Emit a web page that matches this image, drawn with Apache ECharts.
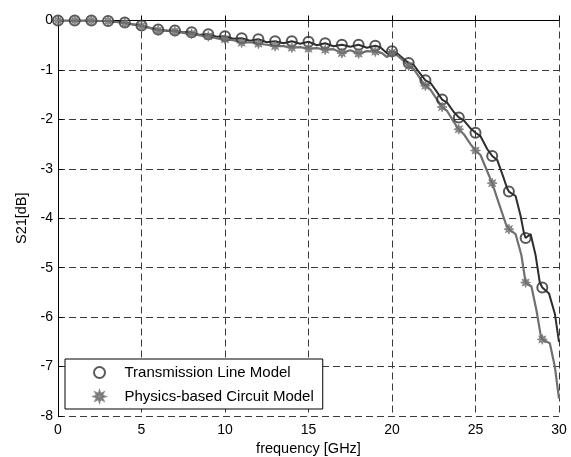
<!DOCTYPE html>
<html>
<head>
<meta charset="utf-8">
<script src="https://cdn.jsdelivr.net/npm/echarts@6/dist/echarts.min.js"></script>
<style>
  html, body { margin: 0; padding: 0; background: #fff; }
  #chart { width: 571px; height: 457px; }
</style>
</head>
<body>
<div id="chart"></div>
<script>
// Marker frequencies [GHz] and S21 [dB] at each marker
const markerFreq = [0, 1, 2, 3, 4, 5, 6, 7, 8, 9, 10, 11, 12, 13, 14, 15, 16, 17, 18, 19,
                    20, 21, 22, 23, 24, 25, 26, 27, 28, 29];
const tlMarkers = [0, 0, 0, -0.01, -0.04, -0.1, -0.18, -0.2, -0.24, -0.28, -0.32, -0.36, -0.38, -0.42, -0.42,
                   -0.43, -0.46, -0.49, -0.49, -0.51, -0.62, -0.86, -1.21, -1.6, -1.96, -2.27, -2.74, -3.46, -4.4, -5.4];
const pcMarkers = [0, 0, 0, -0.01, -0.05, -0.11, -0.2, -0.22, -0.27, -0.32, -0.38, -0.45, -0.47, -0.52, -0.55,
                   -0.57, -0.59, -0.66, -0.67, -0.63, -0.65, -0.92, -1.32, -1.75, -2.2, -2.63, -3.29, -4.22, -5.3, -6.45];

// Full sweep traces
const tlFreq = [0, 0.5, 1, 1.5, 2, 2.5, 3, 3.5, 4, 4.5, 5, 5.5, 6, 6.5, 7, 7.5, 8, 8.5, 9, 9.5,
                10, 10.5, 11, 11.5, 12, 12.5, 13, 13.5, 14, 14.5, 15, 15.5, 16, 16.5, 17, 17.5, 18, 18.5,
                19, 19.3, 19.7, 20, 20.3, 20.7, 21, 21.3, 21.7, 22, 22.3, 22.7, 23, 23.3, 23.7, 24, 24.3, 24.7,
                25, 25.3, 25.7, 26, 26.3, 26.7, 26.9, 27, 27.4, 27.7, 27.9, 28, 28.3, 28.6, 28.85, 29, 29.4, 29.75, 30];
const tlS21 = [0, 0, 0, 0, 0, -0.01, -0.01, -0.03, -0.04, -0.08, -0.1, -0.15, -0.18, -0.21, -0.2, -0.24, -0.24, -0.29, -0.28, -0.33,
               -0.32, -0.37, -0.36, -0.41, -0.38, -0.44, -0.42, -0.46, -0.42, -0.47, -0.43, -0.5, -0.46, -0.52, -0.49, -0.53, -0.49, -0.55,
               -0.51, -0.54, -0.66, -0.62, -0.66, -0.78, -0.86, -0.9, -1.08, -1.21, -1.26, -1.45, -1.6, -1.66, -1.85, -1.96, -2.02, -2.18,
               -2.27, -2.34, -2.6, -2.74, -2.82, -3.2, -3.4, -3.46, -3.55, -3.95, -4.3, -4.4, -4.32, -4.75, -5.3, -5.4, -5.52, -5.93, -6.5];

const pcFreq = [0, 0.5, 1, 1.5, 2, 2.5, 3, 3.5, 4, 4.5, 5, 5.5, 6, 6.5, 7, 7.5, 8, 8.5, 9, 9.5,
                10, 10.5, 11, 11.5, 12, 12.5, 13, 13.5, 14, 14.5, 15, 15.5, 16, 16.5, 17, 17.5, 18, 18.5,
                19, 19.4, 19.7, 20, 20.3, 20.7, 21, 21.3, 21.7, 22, 22.3, 22.7, 23, 23.3, 23.7, 24, 24.3, 24.7,
                25, 25.3, 25.7, 26, 26.4, 26.8, 27, 27.4, 27.75, 28, 28.35, 28.65, 28.9, 29, 29.45, 29.75, 30];
const pcS21 = [0, 0, 0, 0, 0, -0.01, -0.01, -0.03, -0.05, -0.08, -0.11, -0.15, -0.2, -0.2, -0.22, -0.25, -0.27, -0.3, -0.32, -0.36,
               -0.38, -0.4, -0.45, -0.44, -0.47, -0.49, -0.52, -0.52, -0.55, -0.54, -0.57, -0.56, -0.59, -0.58, -0.66, -0.6, -0.67, -0.62,
               -0.63, -0.66, -0.74, -0.65, -0.7, -0.82, -0.92, -0.98, -1.18, -1.32, -1.4, -1.6, -1.75, -1.83, -2.05, -2.2, -2.3, -2.5,
               -2.63, -2.72, -3.05, -3.29, -3.7, -4.1, -4.22, -4.32, -4.75, -5.3, -5.38, -5.86, -6.36, -6.45, -6.53, -7.0, -7.65];

const xTicks = [0, 5, 10, 15, 20, 25, 30];
const yTicks = [-8, -7, -6, -5, -4, -3, -2, -1, 0];

const darkColor = '#2e2e2e';
const grayColor = '#707070';
// eight-armed asterisk marker with short, thick arms
const asterisk = 'path://M20 10 L14.6 11.9 L17.07 17.07 L11.9 14.6 L10 20 L8.1 14.6 L2.93 17.07 L5.4 11.9 L0 10 L5.4 8.1 L2.93 2.93 L8.1 5.4 L10 0 L11.9 5.4 L17.07 2.93 L14.6 8.1 Z';

const zip = (xs, ys) => xs.map((x, i) => [x, ys[i]]);
const font = 'Liberation Sans, Arial, sans-serif';

const chart = echarts.init(document.getElementById('chart'), null, { renderer: 'canvas' });

chart.setOption({
  animation: false,
  backgroundColor: '#fff',
  textStyle: { fontFamily: font },
  grid: { left: 58, right: 12, top: 20.5, bottom: 41, containLabel: false, outerBoundsMode: 'none' },
  xAxis: {
    type: 'value', min: 0, max: 30, interval: 5,
    name: 'frequency [GHz]', nameLocation: 'middle', nameGap: 24,
    nameTextStyle: { color: '#000', fontSize: 14.5, fontFamily: font },
    axisLine: { lineStyle: { color: '#000', width: 1 } },
    axisTick: { inside: true, length: 5, lineStyle: { color: '#000' } },
    axisLabel: { color: '#000', fontSize: 14, margin: 7, fontFamily: font,
                 formatter: v => xTicks.includes(v) ? String(v) : '' },
    splitLine: { show: true, lineStyle: { color: '#3a3a3a', type: [7, 4], width: 1 } }
  },
  yAxis: {
    type: 'value', min: -8, max: 0, interval: 1,
    name: 'S21[dB]', nameLocation: 'middle', nameGap: 27, nameRotate: 90,
    nameTextStyle: { color: '#000', fontSize: 14.5, fontFamily: font },
    axisLine: { show: true, lineStyle: { color: '#000', width: 1 } },
    axisTick: { show: true, inside: true, length: 5, lineStyle: { color: '#000' } },
    axisLabel: { color: '#000', fontSize: 14, margin: 5, fontFamily: font,
                 formatter: v => yTicks.includes(v) ? String(v) : '' },
    splitLine: { show: true, lineStyle: { color: '#3a3a3a', type: [7, 4], width: 1 } }
  },
  legend: {
    orient: 'vertical',
    left: 65, top: 359,
    padding: [6, 9, 5, 28],
    itemWidth: 40, itemHeight: 11, itemGap: 9,
    backgroundColor: '#fff',
    borderColor: '#000', borderWidth: 1,
    textStyle: { color: '#000', fontSize: 15, fontFamily: font },
    data: ['Transmission Line Model', 'Physics-based Circuit Model']
  },
  series: [
    {
      name: 'tl-line', type: 'line', data: zip(tlFreq, tlS21), showSymbol: false, smooth: false,
      lineStyle: { color: darkColor, width: 2 }, z: 2, silent: true
    },
    {
      name: 'pc-line', type: 'line', data: zip(pcFreq, pcS21), showSymbol: false, smooth: false,
      lineStyle: { color: grayColor, width: 2.2 }, z: 3, silent: true
    },
    {
      name: 'Transmission Line Model', type: 'scatter', data: zip(markerFreq, tlMarkers),
      symbol: 'circle', symbolSize: 10,
      itemStyle: { color: 'rgba(255,255,255,0)', borderColor: darkColor, borderWidth: 2 }, z: 4
    },
    {
      name: 'Physics-based Circuit Model', type: 'scatter', data: zip(markerFreq, pcMarkers),
      symbol: asterisk, symbolSize: 10,
      itemStyle: { color: grayColor, borderColor: grayColor, borderWidth: 0.8 }, z: 5
    }
  ]
});
</script>
</body>
</html>
